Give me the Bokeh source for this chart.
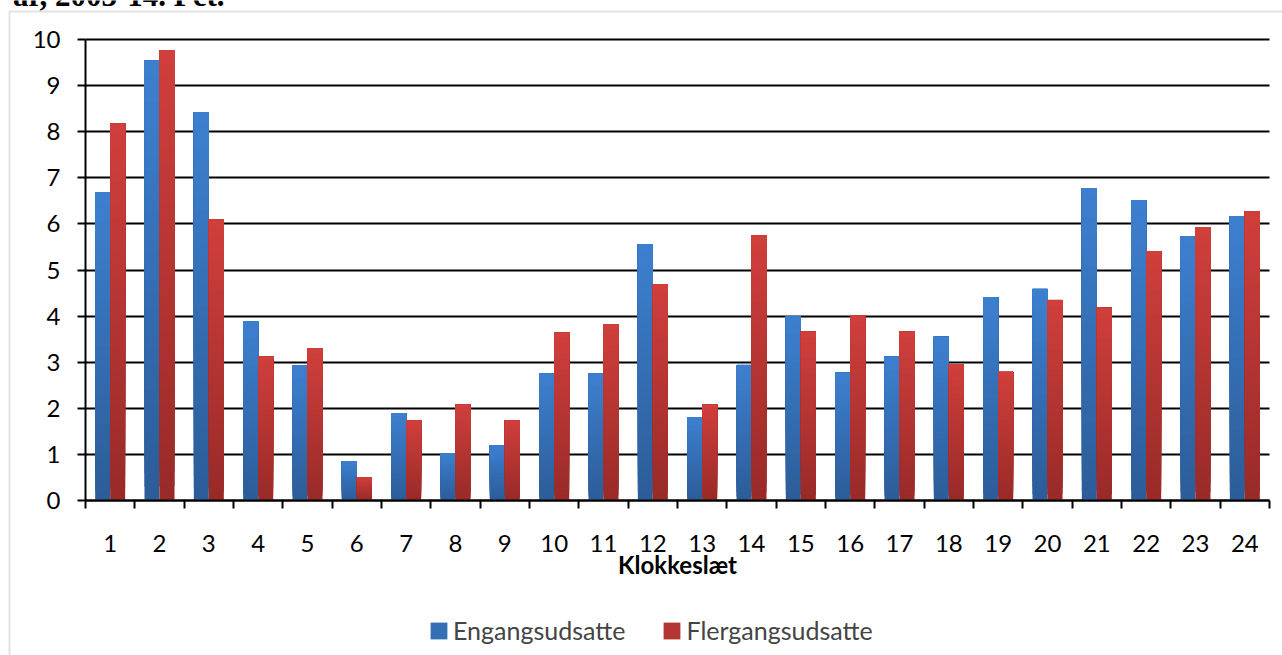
from bokeh.plotting import figure
from bokeh.models import (ColumnDataSource, Range1d, FixedTicker, Legend, LegendItem,
                          Label, BoxAnnotation, LinearAxis, Grid)
from bokeh.embed import file_html
from bokeh.resources import INLINE

# ---------------- data ----------------
hours = list(range(1, 25))
engang = [6.68, 9.54, 8.42, 3.88, 2.93, 0.85, 1.89, 1.02, 1.19, 2.75, 2.75, 5.56,
          1.80, 2.94, 3.99, 2.77, 3.12, 3.55, 4.41, 4.59, 6.77, 6.51, 5.73, 6.16]
flergang = [8.18, 9.76, 6.10, 3.12, 3.30, 0.50, 1.74, 2.08, 1.74, 3.64, 3.82, 4.69,
            2.08, 5.75, 3.66, 4.01, 3.66, 2.96, 2.79, 4.35, 4.18, 5.41, 5.93, 6.27]
y_ticks = list(range(0, 11))
series_names = ["Engangsudsatte", "Flergangsudsatte"]
x_title = "Klokkeslæt"
title_fragment = "ar, 2003-14. Pct."

# ---------------- layout / style ----------------
FONT = "Lato"
W, H = 1282, 655
CANVAS_X0, CANVAS_Y0 = 0, 0          # page position of the canvas
PLOT_L, PLOT_R = 85, 1269            # page x of the category axis ends
PLOT_T, PLOT_B = 39, 500             # page y of value 10 / value 0
X_LO, X_HI = hours[0] - 0.5, hours[-1] + 0.5
Y_LO, Y_HI = y_ticks[0], y_ticks[-1]
SX = (PLOT_R - PLOT_L) / (X_HI - X_LO)
SY = (PLOT_B - PLOT_T) / (Y_HI - Y_LO)


def px2x(px):
    return X_LO + (px - PLOT_L) / SX


def py2y(py):
    return Y_LO + (PLOT_B - py) / SY


BAR_W = 0.304
N_SLICES = 32
BLUE_BOT, BLUE_TOP = (44, 92, 152), (61, 128, 208)
RED_BOT, RED_TOP = (152, 42, 40), (208, 63, 60)


def hexcol(c):
    return "#%02x%02x%02x" % tuple(int(round(v)) for v in c)


def grad_source(vals, offset, cb, ct):
    # each bar = overlapping layers, each from a fraction of its height up to the top,
    # so the visible bands form a smooth vertical gradient without seams
    xs, bots, tops, cols = [], [], [], []
    for h, v in zip(hours, vals):
        for j in range(N_SLICES):
            t = (j + 0.5) / N_SLICES
            xs.append(h + offset)
            bots.append(v * j / N_SLICES)
            tops.append(v)
            cols.append(hexcol([cb[k] + (ct[k] - cb[k]) * t for k in range(3)]))
    return ColumnDataSource(dict(x=xs, bottom=bots, top=tops, color=cols))


p = figure(width=W, height=H, output_backend="svg", toolbar_location=None,
           x_axis_type=None, y_axis_type=None, title=None,
           x_range=Range1d(px2x(CANVAS_X0), px2x(CANVAS_X0 + W)),
           y_range=Range1d(py2y(CANVAS_Y0 + H), py2y(CANVAS_Y0)),
           min_border=0, margin=(0, 0, 0, 0))
p.outline_line_color = None
p.background_fill_color = "white"
p.border_fill_color = "white"

# horizontal grid lines (only across the plot area)
if "cross_bounds" in Grid.properties():
    grid = Grid(dimension=1, ticker=FixedTicker(ticks=y_ticks), cross_bounds=(X_LO, X_HI),
                grid_line_color="black", grid_line_width=2)
    p.add_layout(grid)
else:
    p.segment(x0=[X_LO] * len(y_ticks), x1=[X_HI] * len(y_ticks), y0=y_ticks, y1=y_ticks,
              line_color="black", line_width=2)

# bars
r_blue = p.vbar(x="x", bottom="bottom", top="top", width=BAR_W, fill_color="color",
                line_color=None,
                source=grad_source(engang, -BAR_W / 2, BLUE_BOT, BLUE_TOP))
r_red = p.vbar(x="x", bottom="bottom", top="top", width=BAR_W, fill_color="color",
               line_color=None,
               source=grad_source(flergang, BAR_W / 2, RED_BOT, RED_TOP))

# y axis
ya = LinearAxis(fixed_location=X_LO, bounds=(Y_LO, Y_HI), ticker=FixedTicker(ticks=y_ticks))
ya.axis_line_color = "black"
ya.axis_line_width = 2
ya.major_tick_line_color = "black"
ya.major_tick_line_width = 2
ya.major_tick_out = 8
ya.major_tick_in = 0
ya.minor_tick_line_color = None
ya.major_label_standoff = 17
ya.major_label_text_font = FONT
ya.major_label_text_font_size = "24px"
ya.major_label_text_color = "black"
p.add_layout(ya, "left")

# x axis
xa = LinearAxis(fixed_location=Y_LO, bounds=(X_LO, X_HI),
                ticker=FixedTicker(ticks=hours, minor_ticks=[h - 0.5 for h in hours] + [X_HI]))
xa.axis_line_color = "black"
xa.axis_line_width = 2
xa.major_tick_out = 0
xa.major_tick_in = 0
xa.minor_tick_out = 8
xa.minor_tick_in = 0
xa.minor_tick_line_color = "black"
xa.minor_tick_line_width = 2
xa.major_label_standoff = 26
xa.major_label_text_font = FONT
xa.major_label_text_font_size = "24px"
xa.major_label_text_color = "black"
xa.axis_label = x_title
xa.axis_label_text_font = FONT
xa.axis_label_text_font_style = "bold"
xa.axis_label_text_font_size = "24px"
xa.axis_label_text_color = "black"
xa.axis_label_standoff = -5
p.add_layout(xa, "below")

# legend
legend = Legend(items=[LegendItem(label=series_names[0], renderers=[r_blue], index=N_SLICES // 2),
                       LegendItem(label=series_names[1], renderers=[r_red], index=N_SLICES // 2)],
                orientation="horizontal",
                location=(428 - CANVAS_X0, CANVAS_Y0 + H - 645),
                padding=0, margin=0, spacing=36, label_standoff=4,
                glyph_width=21, glyph_height=21,
                label_text_font=FONT, label_text_font_size="25px",
                border_line_color=None, background_fill_alpha=0)
p.add_layout(legend)

# chart border (gray box) and cut-off title fragment
p.add_layout(BoxAnnotation(left=px2x(9), right=px2x(1400), top=py2y(11), bottom=py2y(800),
                           fill_alpha=0, line_color="#a0a0a0", line_width=2))
p.add_layout(Label(x=px2x(224), y=py2y(-5), text=title_fragment,
                   text_align="right", text_baseline="alphabetic",
                   text_font="Liberation Serif", text_font_style="bold",
                   text_font_size="31px", text_color="black"))

open("out.html", "w").write(file_html(p, INLINE))
